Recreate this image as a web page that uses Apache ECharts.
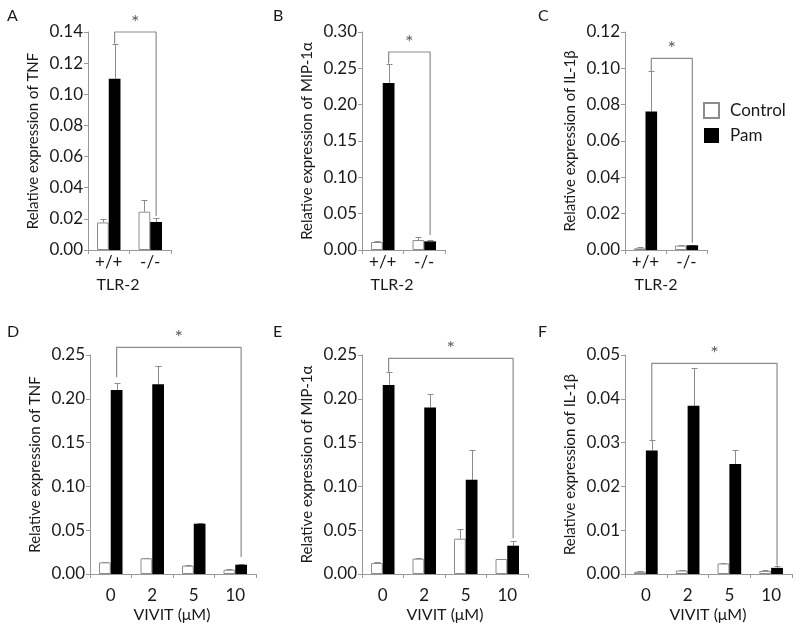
<!DOCTYPE html>
<html><head><meta charset="utf-8">
<script src="https://cdn.jsdelivr.net/npm/echarts@6/dist/echarts.min.js"></script>
<style>html,body{margin:0;padding:0;background:#fff}#c{width:800px;height:632px}</style>
</head><body><div id="c"></div>
<script>
// ---- data ----
const catTLR = ['+/+', '-/-'];
const catVIVIT = ['0', '2', '5', '10'];
const yNames = ['Relative expression of TNF', 'Relative expression of MIP-1α', 'Relative expression of IL-1β'];
const xNames = ['TLR-2', 'VIVIT (μM)'];
const panelLetters = ['A', 'B', 'C', 'D', 'E', 'F'];
const yMax = [0.14, 0.30, 0.12, 0.25, 0.25, 0.05];
const yStep = [0.02, 0.05, 0.02, 0.05, 0.05, 0.01];

// A: TNF, TLR-2
const A_control = [0.0177, 0.0246];
const A_controlErr = [0.0020, 0.0072];
const A_pam = [0.1100, 0.0180];
const A_pamErr = [0.0225, 0.0027];
const A_bracket = [0.1325, 0.1400, 0.0218];
// B: MIP-1a, TLR-2
const B_control = [0.0110, 0.0137];
const B_controlErr = [0.0010, 0.0042];
const B_pam = [0.2299, 0.0119];
const B_pamErr = [0.0266, 0.0014];
const B_bracket = [0.2565, 0.2725, 0.0206];
// C: IL-1b, TLR-2
const C_control = [0.0009, 0.0024];
const C_controlErr = [0.0006, 0.0002];
const C_pam = [0.0762, 0.0026];
const C_pamErr = [0.0222, 0.0004];
const C_bracket = [0.0984, 0.1055, 0.0040];
// D: TNF, VIVIT
const D_control = [0.0133, 0.0179, 0.0095, 0.0049];
const D_controlErr = [0.0007, 0.0003, 0.0003, 0.0003];
const D_pam = [0.2101, 0.2166, 0.0574, 0.0106];
const D_pamErr = [0.0076, 0.0209, 0.0007, 0.0003];
const D_bracket = [0.2245, 0.2587, 0.0194];
// E: MIP-1a, VIVIT
const E_control = [0.0125, 0.0175, 0.0403, 0.0171];
const E_controlErr = [0.0015, 0.0005, 0.0110, 0.0002];
const E_pam = [0.2158, 0.1900, 0.1075, 0.0323];
const E_pamErr = [0.0144, 0.0152, 0.0342, 0.0057];
const E_bracket = [0.2302, 0.2462, 0.0407];
// F: IL-1b, VIVIT
const F_control = [0.0005, 0.0008, 0.0024, 0.0007];
const F_controlErr = [0.0001, 0.0001, 0.0001, 0.0001];
const F_pam = [0.0282, 0.0384, 0.0251, 0.0014];
const F_pamErr = [0.0024, 0.0086, 0.0031, 0.0004];
const F_bracket = [0.0306, 0.0481, 0.0019];

// ---- layout ----
const FONT = 'Lato';
const TXT = '#1a1a1a';
const AX = '#9a9a9a';
const panels = [
  {cats: catTLR, c: A_control, ce: A_controlErr, p: A_pam, pe: A_pamErr, br: A_bracket, yName: yNames[0], xName: xNames[0],
   grid: {left: 88, top: 32, width: 83, height: 218}, labelMargin: 4, namePos: [118, 285], letter: [7, 8]},
  {cats: catTLR, c: B_control, ce: B_controlErr, p: B_pam, pe: B_pamErr, br: B_bracket, yName: yNames[1], xName: xNames[0],
   grid: {left: 362, top: 32, width: 83, height: 218}, labelMargin: 4, namePos: [392, 285], letter: [273, 8]},
  {cats: catTLR, c: C_control, ce: C_controlErr, p: C_pam, pe: C_pamErr, br: C_bracket, yName: yNames[2], xName: xNames[0],
   grid: {left: 625, top: 32, width: 82, height: 218}, labelMargin: 4, namePos: [656, 285], letter: [538, 8]},
  {cats: catVIVIT, c: D_control, ce: D_controlErr, p: D_pam, pe: D_pamErr, br: D_bracket, yName: yNames[0], xName: xNames[1],
   grid: {left: 90, top: 355, width: 166, height: 219}, labelMargin: 13, namePos: [172, 615], letter: [7, 324]},
  {cats: catVIVIT, c: E_control, ce: E_controlErr, p: E_pam, pe: E_pamErr, br: E_bracket, yName: yNames[1], xName: xNames[1],
   grid: {left: 362, top: 355, width: 166, height: 219}, labelMargin: 13, namePos: [445, 615], letter: [273, 324]},
  {cats: catVIVIT, c: F_control, ce: F_controlErr, p: F_pam, pe: F_pamErr, br: F_bracket, yName: yNames[2], xName: xNames[1],
   grid: {left: 625, top: 355, width: 167, height: 219}, labelMargin: 13, namePos: [708, 615], letter: [538, 324]}
];

const HALF = 0.1415; // half bar width in category units (barCategoryGap 43.4%)
const grids = [], xAxes = [], yAxes = [], series = [], titles = [], graphics = [];

function errRender(params, api) {
  const x = api.value(0), v = api.value(1), hi = api.value(2);
  const p0 = api.coord([x, v]);
  const p1 = api.coord([x, hi]);
  const xx = Math.round(p0[0]) + 0.5;
  const yt = Math.round(p1[1]) + 0.5;
  const st = {stroke: '#8c8c8c', lineWidth: 1};
  return {type: 'group', children: [
    {type: 'line', shape: {x1: xx, y1: p0[1], x2: xx, y2: yt}, style: st},
    {type: 'line', shape: {x1: xx - 3, y1: yt, x2: xx + 3, y2: yt}, style: st}
  ]};
}

panels.forEach((pn, i) => {
  const n = pn.cats.length;
  grids.push(Object.assign({outerBoundsMode: 'none', containLabel: false}, pn.grid));
  xAxes.push({
    type: 'category', gridIndex: i, data: pn.cats,
    axisLine: {lineStyle: {color: AX, width: 1}},
    axisTick: {show: true, length: 4, lineStyle: {color: AX}},
    axisLabel: {margin: pn.labelMargin, fontFamily: FONT, fontSize: 17, color: TXT}
  });
  xAxes.push({type: 'value', gridIndex: i, min: 0, max: n, show: false});
  yAxes.push({
    type: 'value', gridIndex: i, min: 0, max: yMax[i], interval: yStep[i],
    axisLine: {show: true, lineStyle: {color: AX, width: 1}},
    axisTick: {show: true, length: 4, lineStyle: {color: AX}},
    splitLine: {show: false},
    axisLabel: {margin: 5, fontFamily: FONT, fontSize: 17, color: TXT, formatter: v => v.toFixed(2)},
    name: pn.yName, nameLocation: 'middle', nameGap: 47, nameRotate: 90, nameMoveOverlap: false,
    nameTextStyle: {fontFamily: FONT, fontSize: 15, color: TXT}
  });
  const xc = i * 2, xv = i * 2 + 1;
  series.push({
    type: 'bar', name: 'Control', xAxisIndex: xc, yAxisIndex: i, data: pn.c,
    barGap: '0%', barCategoryGap: '43.4%',
    itemStyle: {color: '#ffffff', borderColor: '#8c8c8c', borderWidth: 1},
    emphasis: {disabled: true}, z: 2
  });
  series.push({
    type: 'bar', name: 'Pam', xAxisIndex: xc, yAxisIndex: i, data: pn.p,
    barGap: '0%', barCategoryGap: '43.4%',
    itemStyle: {color: '#000000'},
    emphasis: {disabled: true}, z: 2
  });
  const errData = [];
  pn.c.forEach((v, k) => errData.push([k + 0.5 - HALF, v, v + pn.ce[k]]));
  pn.p.forEach((v, k) => errData.push([k + 0.5 + HALF, v, v + pn.pe[k]]));
  series.push({
    type: 'custom', xAxisIndex: xv, yAxisIndex: i, data: errData,
    encode: {x: 0, y: [1, 2]}, renderItem: errRender, clip: false, z: 1, silent: true
  });
  const xl = 0 + 0.5 + HALF, xr = n - 1 + 0.5 + HALF;
  series.push({
    type: 'line', xAxisIndex: xv, yAxisIndex: i, symbol: 'none', clip: false, silent: true,
    data: [[xl, pn.br[0]], [xl, pn.br[1]], [xr, pn.br[1]], [xr, pn.br[2]]],
    lineStyle: {color: '#8c8c8c', width: 1.2}, z: 3
  });
  series.push({
    type: 'scatter', xAxisIndex: xv, yAxisIndex: i, symbolSize: 1, clip: false, silent: true,
    itemStyle: {color: 'rgba(0,0,0,0)'},
    data: [[(xl + xr) / 2, pn.br[1]]],
    label: {show: true, formatter: '*', position: 'top', distance: -1, fontFamily: FONT, fontSize: 20, color: '#333'}
  });
  titles.push({text: panelLetters[i], left: pn.letter[0], top: pn.letter[1], padding: 0,
    textStyle: {fontFamily: FONT, fontSize: 16, fontWeight: 'normal', color: TXT}});
  graphics.push({
    type: 'text', x: pn.namePos[0], y: pn.namePos[1], silent: true,
    style: {text: pn.xName, fill: TXT, font: '16px ' + FONT, align: 'center', verticalAlign: 'middle'}
  });
});

const chart = echarts.init(document.getElementById('c'), null, {renderer: 'canvas'});
chart.setOption({
  animation: false,
  backgroundColor: '#ffffff',
  title: titles,
  grid: grids,
  xAxis: xAxes,
  yAxis: yAxes,
  graphic: graphics,
  legend: {
    data: ['Control', 'Pam'], orient: 'vertical', left: 703, top: 102, padding: 0,
    itemWidth: 15, itemHeight: 15, itemGap: 8, icon: 'rect',
    textStyle: {fontFamily: FONT, fontSize: 17, color: TXT, padding: [0, 0, 0, 6]},
    selectedMode: false
  },
  series: series
});
</script></body></html>
